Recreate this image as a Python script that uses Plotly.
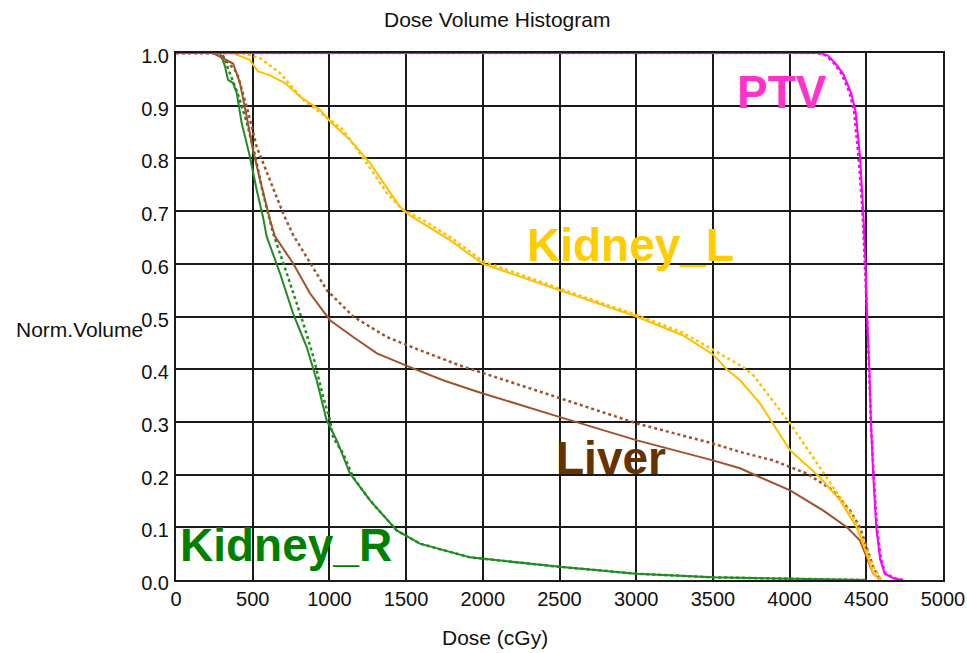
import plotly.graph_objects as go

# ---------------- data ----------------
ptv_dose = [0, 4200, 4250, 4300, 4350, 4400, 4430, 4460, 4480, 4495, 4505, 4520, 4530, 4545, 4565, 4590, 4620, 4680, 4740]
ptv_vol = [1.0, 1.0, 0.995, 0.98, 0.96, 0.925, 0.89, 0.8, 0.7, 0.6, 0.5, 0.4, 0.3, 0.2, 0.1, 0.04, 0.012, 0.003, 0.0]
ptv2_dose = [0, 4180, 4240, 4290, 4340, 4390, 4420, 4450, 4475, 4492, 4505, 4518, 4530, 4548, 4570, 4595, 4625, 4690, 4740]
ptv2_vol = [1.0, 1.0, 0.995, 0.98, 0.96, 0.925, 0.89, 0.8, 0.7, 0.6, 0.5, 0.4, 0.3, 0.2, 0.1, 0.04, 0.012, 0.003, 0.0]

kl_dose = [0, 370, 480, 535, 610, 710, 810, 940, 1005, 1135, 1265, 1460, 1525, 1786, 2000, 2500, 3000, 3300, 3500,
           3590, 3677, 3807, 4003, 4198, 4329, 4437, 4502, 4545, 4590]
kl_vol = [1.0, 1.0, 0.987, 0.965, 0.958, 0.943, 0.917, 0.892, 0.87, 0.835, 0.791, 0.708, 0.692, 0.645, 0.6, 0.55,
          0.5, 0.465, 0.428, 0.40, 0.379, 0.335, 0.246, 0.195, 0.151, 0.10, 0.05, 0.012, 0.0]
kl2_dose = [0, 430, 548, 678, 830, 1004, 1090, 1245, 1375, 1480, 1600, 1800, 2000, 2500, 3000, 3300, 3500, 3697,
            3765, 3937, 4003, 4180, 4310, 4415, 4480, 4545, 4600]
kl2_vol = [1.0, 1.0, 0.99, 0.962, 0.911, 0.873, 0.854, 0.79, 0.734, 0.702, 0.685, 0.648, 0.605, 0.553, 0.503, 0.47,
           0.436, 0.404, 0.388, 0.322, 0.297, 0.221, 0.164, 0.119, 0.075, 0.025, 0.0]

lv_dose = [0, 241, 372, 417, 461, 502, 548, 613, 645, 763, 873, 1004, 1155, 1310, 1525, 1741, 1916, 2001, 2503,
           3005, 3500, 3677, 3807, 4003, 4218, 4374, 4459, 4502, 4545, 4590]
lv_vol = [1.0, 1.0, 0.98, 0.943, 0.879, 0.816, 0.759, 0.683, 0.652, 0.601, 0.544, 0.493, 0.461, 0.43, 0.404, 0.379,
          0.362, 0.354, 0.309, 0.265, 0.227, 0.212, 0.195, 0.170, 0.132, 0.10, 0.075, 0.043, 0.012, 0.0]
lv2_dose = [0, 287, 398, 461, 526, 613, 698, 763, 852, 983, 1155, 1375, 1590, 1851, 2503, 3005, 3500, 3677, 3892,
            4113, 4283, 4394, 4459, 4502, 4545, 4590]
lv2_vol = [1.0, 1.0, 0.962, 0.898, 0.822, 0.759, 0.696, 0.655, 0.613, 0.55, 0.5, 0.461, 0.436, 0.407, 0.345, 0.297,
           0.259, 0.243, 0.227, 0.202, 0.17, 0.132, 0.10, 0.062, 0.025, 0.0]

kr_dose = [0, 287, 320, 339, 372, 396, 428, 482, 526, 567, 591, 678, 763, 852, 917, 982, 1048, 1134, 1265, 1439,
           1590, 1916, 2500, 3000, 3500, 4000, 4500]
kr_vol = [1.0, 1.0, 0.974, 0.949, 0.943, 0.924, 0.867, 0.803, 0.74, 0.689, 0.652, 0.582, 0.506, 0.442, 0.379, 0.303,
          0.265, 0.202, 0.151, 0.094, 0.069, 0.043, 0.025, 0.012, 0.005, 0.002, 0.0]
kr2_dose = [0, 300, 340, 400, 460, 520, 567, 633, 722, 830, 895, 960, 1004, 1025, 1090, 1155, 1265, 1439, 1590, 1916,
            2500, 3000, 3500, 4000, 4500]
kr2_vol = [1.0, 1.0, 0.97, 0.925, 0.87, 0.8, 0.734, 0.658, 0.582, 0.487, 0.424, 0.347, 0.303, 0.27, 0.24, 0.195,
           0.151, 0.094, 0.069, 0.043, 0.025, 0.012, 0.005, 0.002, 0.0]

x_ticks = [0, 500, 1000, 1500, 2000, 2500, 3000, 3500, 4000, 4500, 5000]
y_ticks = [0.0, 0.1, 0.2, 0.3, 0.4, 0.5, 0.6, 0.7, 0.8, 0.9, 1.0]

labels = ["PTV", "Kidney_L", "Liver", "Kidney_R"]
label_x = [3950, 2966, 2836, 717]
label_y = [0.926, 0.635, 0.231, 0.066]

col_ptv, col_kl, col_lv, col_kr = "#FF00FF", "#FFC000", "#A0522D", "#228B22"
label_colors = ["#FF33CC", "#FFCC00", "#663300", "#008000"]

# ---------------- figure ----------------
W, H = 967, 653
L, R, T, B = 176, 24, 53, 73
pw, ph = W - L - R, H - T - B

fig = go.Figure()
series = [
    (kr_dose, kr_vol, col_kr, "solid"), (kr2_dose, kr2_vol, col_kr, "dot"),
    (lv_dose, lv_vol, col_lv, "solid"), (lv2_dose, lv2_vol, col_lv, "dot"),
    (kl_dose, kl_vol, col_kl, "solid"), (kl2_dose, kl2_vol, col_kl, "dot"),
    (ptv_dose, ptv_vol, col_ptv, "solid"), (ptv2_dose, ptv2_vol, col_ptv, "dot"),
]
for xd, yd, c, d in series:
    fig.add_trace(go.Scatter(x=xd, y=yd, mode="lines", showlegend=False, hoverinfo="skip",
                             line=dict(color=c, width=2.5 if d == "dot" else 2, dash=d)))

for t, xx, yy, c in zip(labels, label_x, label_y, label_colors):
    fig.add_annotation(x=xx, y=yy, xref="x", yref="y", text=t, showarrow=False,
                       xanchor="center", yanchor="middle",
                       font=dict(family="Liberation Sans, Arial", size=46, color=c, weight="bold"))

text_font = dict(family="Liberation Sans, Arial", size=21, color="#111")
for t, px, py in [("Dose Volume Histogram", 497, 19), ("Norm.Volume", 80, 329), ("Dose (cGy)", 495, 637)]:
    fig.add_annotation(x=(px - L) / pw, y=1 - (py - T) / ph, xref="paper", yref="paper", text=t,
                       showarrow=False, xanchor="center", yanchor="middle", font=text_font)

axis_font = dict(family="Liberation Sans, Arial", size=20, color="#111")
fig.update_xaxes(range=[0, 5000], tickvals=x_ticks, ticktext=[str(v) for v in x_ticks],
                 showgrid=True, gridcolor="#1a1a1a", gridwidth=2, zeroline=False,
                 showline=True, linecolor="#1a1a1a", linewidth=2, mirror=True,
                 ticks="", tickfont=axis_font, automargin=False)
fig.update_yaxes(range=[0, 1.0], tickvals=y_ticks, ticktext=[f"{v:.1f}" for v in y_ticks],
                 showgrid=True, gridcolor="#1a1a1a", gridwidth=2, zeroline=False,
                 showline=True, linecolor="#1a1a1a", linewidth=2, mirror=True,
                 ticks="", tickfont=axis_font, ticklabelstandoff=1, ticklabelshift=3, automargin=False)

fig.update_layout(width=W, height=H, margin=dict(l=L, r=R, t=T, b=B, autoexpand=False),
                  plot_bgcolor="white", paper_bgcolor="white")

fig.write_html("out.html", config={"displayModeBar": False, "responsive": False},
               post_script="document.body.style.margin='0';document.body.style.overflow='hidden';")
